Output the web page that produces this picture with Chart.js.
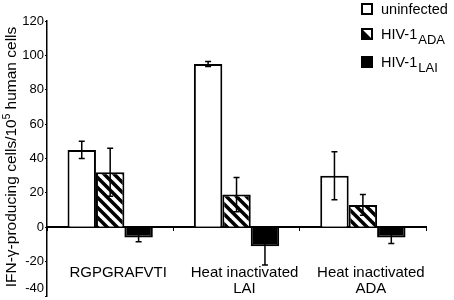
<!DOCTYPE html>
<html>
<head>
<meta charset="utf-8">
<script src="https://cdn.jsdelivr.net/npm/chart.js@4.4.0/dist/chart.umd.min.js"></script>
<style>
  html, body { margin: 0; padding: 0; background: #fff; }
</style>
</head>
<body>
<canvas id="chart" width="454" height="300"></canvas>
<script>
// data
var categories = [['RGPGRAFVTI'], ['Heat inactivated', 'LAI'], ['Heat inactivated', 'ADA']];
var uninfected = [45, 95, 30];
var uninfectedErr = [5, 1.5, 14];
var hivADA = [32, 19, 13];
var hivADAErr = [14, 10, 6];
var hivLAI = [-6, -11, -6];
var hivLAIErr = [2.5, 11, 3.5];
var yTicks = [-40, -20, 0, 20, 40, 60, 80, 100, 120];

var FONT = '"Liberation Sans", Arial, Helvetica, sans-serif';

function makeHatch() {
  var p = document.createElement('canvas');
  p.width = 10; p.height = 10;
  var g = p.getContext('2d');
  g.fillStyle = '#fff';
  g.fillRect(0, 0, 10, 10);
  g.strokeStyle = '#000';
  g.lineWidth = 3.5;
  for (var k = -1; k <= 1; k++) {
    g.beginPath();
    g.moveTo(k * 10 - 2, -2);
    g.lineTo(k * 10 + 12, 12);
    g.stroke();
  }
  return g.createPattern(p, 'repeat');
}
var hatch = makeHatch();

var errorBars = {
  id: 'errorBars',
  afterDatasetsDraw: function(chart) {
    var ctx = chart.ctx, y = chart.scales.y;
    chart.data.datasets.forEach(function(ds, i) {
      chart.getDatasetMeta(i).data.forEach(function(bar, j) {
        var v = ds.data[j], e = ds.errors[j];
        var top = y.getPixelForValue(v + e), bot = y.getPixelForValue(v - e);
        ctx.save();
        ctx.strokeStyle = '#000';
        ctx.lineWidth = 1.5;
        ctx.beginPath();
        ctx.moveTo(bar.x, top); ctx.lineTo(bar.x, bot);
        ctx.moveTo(bar.x - 3, top); ctx.lineTo(bar.x + 3, top);
        ctx.moveTo(bar.x - 3, bot); ctx.lineTo(bar.x + 3, bot);
        ctx.stroke();
        ctx.restore();
      });
    });
  }
};

// y title with superscript, and the legend with subscripts
var decorations = {
  id: 'decorations',
  afterDraw: function(chart) {
    var ctx = chart.ctx;
    ctx.save();
    ctx.fillStyle = '#000';
    ctx.textBaseline = 'alphabetic';

    // axis title
    var a = 'IFN-\u03b3-producing cells/10', s = '5', b = ' human cells';
    ctx.translate(16, 157);
    ctx.rotate(-Math.PI / 2);
    ctx.font = '15.5px ' + FONT;
    var wa = ctx.measureText(a).width, wb = ctx.measureText(b).width;
    ctx.font = '10px ' + FONT;
    var ws = ctx.measureText(s).width;
    var x = -(wa + ws + wb) / 2;
    ctx.font = '15.5px ' + FONT;
    ctx.fillText(a, x, 0);
    ctx.fillText(b, x + wa + ws, 0);
    ctx.font = '10px ' + FONT;
    ctx.fillText(s, x + wa, -6);
    ctx.setTransform(1, 0, 0, 1, 0, 0);

    // legend
    var rows = [
      { fill: '#fff', main: 'uninfected', sub: '', y: 4 },
      { fill: 'half', main: 'HIV-1', sub: 'ADA', y: 29 },
      { fill: '#000', main: 'HIV-1', sub: 'LAI', y: 57 }
    ];
    rows.forEach(function(r) {
      var bx = 362, by = r.y, sz = 10;
      ctx.fillStyle = '#fff';
      ctx.fillRect(bx, by, sz, sz);
      ctx.fillStyle = '#000';
      if (r.fill === '#000') {
        ctx.fillRect(bx, by, sz, sz);
      } else if (r.fill === 'half') {
        ctx.beginPath();
        ctx.moveTo(bx, by); ctx.lineTo(bx + sz, by + sz); ctx.lineTo(bx, by + sz);
        ctx.closePath(); ctx.fill();
      }
      ctx.strokeStyle = '#000';
      ctx.lineWidth = 2;
      ctx.strokeRect(bx, by, sz, sz);
      ctx.font = '14.5px ' + FONT;
      ctx.fillText(r.main, 381, by + 10);
      if (r.sub) {
        var w = ctx.measureText(r.main).width;
        ctx.font = '13px ' + FONT;
        ctx.fillText(r.sub, 381 + w + 1, by + 15);
      }
    });
    ctx.restore();
  }
};

new Chart(document.getElementById('chart'), {
  type: 'bar',
  data: {
    labels: categories,
    datasets: [
      { label: 'uninfected', data: uninfected, errors: uninfectedErr,
        backgroundColor: '#fff', borderColor: '#000', borderWidth: 2 },
      { label: 'HIV-1 ADA', data: hivADA, errors: hivADAErr,
        backgroundColor: hatch, borderColor: '#000', borderWidth: 2 },
      { label: 'HIV-1 LAI', data: hivLAI, errors: hivLAIErr,
        backgroundColor: '#000', borderColor: '#000', borderWidth: 2 }
    ]
  },
  options: {
    responsive: false,
    animation: false,
    layout: { padding: { left: 7, right: 14, top: 21, bottom: 4 } },
    plugins: { legend: { display: false }, tooltip: { enabled: false } },
    datasets: { bar: { barPercentage: 1, categoryPercentage: 0.675, borderSkipped: 'start' } },
    scales: {
      x: {
        position: { y: 0 },
        border: { display: true, color: '#000', width: 2 },
        grid: { display: true, drawOnChartArea: false, offset: true, tickLength: 3, color: '#000', lineWidth: 1 },
        ticks: { color: '#000', padding: 35, labelOffset: 8, maxRotation: 0, autoSkip: false,
                 font: { family: FONT, size: 15, lineHeight: 1.07 } }
      },
      y: {
        min: -40, max: 120,
        afterBuildTicks: function(scale) {
          scale.ticks = yTicks.map(function(v) { return { value: v }; });
        },
        afterFit: function(scale) {
          scale.width = 40;
          scale.paddingTop = 0;
          scale.paddingBottom = 0;
        },
        border: { display: true, color: '#000', width: 1.5 },
        grid: { display: true, drawOnChartArea: false, tickLength: 2, color: '#000', lineWidth: 1 },
        ticks: {
          color: '#000', padding: 1, autoSkip: false,
          font: { family: FONT, size: 13 },
          callback: function(v) { return v === -40 ? ['-40', ''] : String(v); }
        }
      }
    }
  },
  plugins: [errorBars, decorations]
});
</script>
</body>
</html>
